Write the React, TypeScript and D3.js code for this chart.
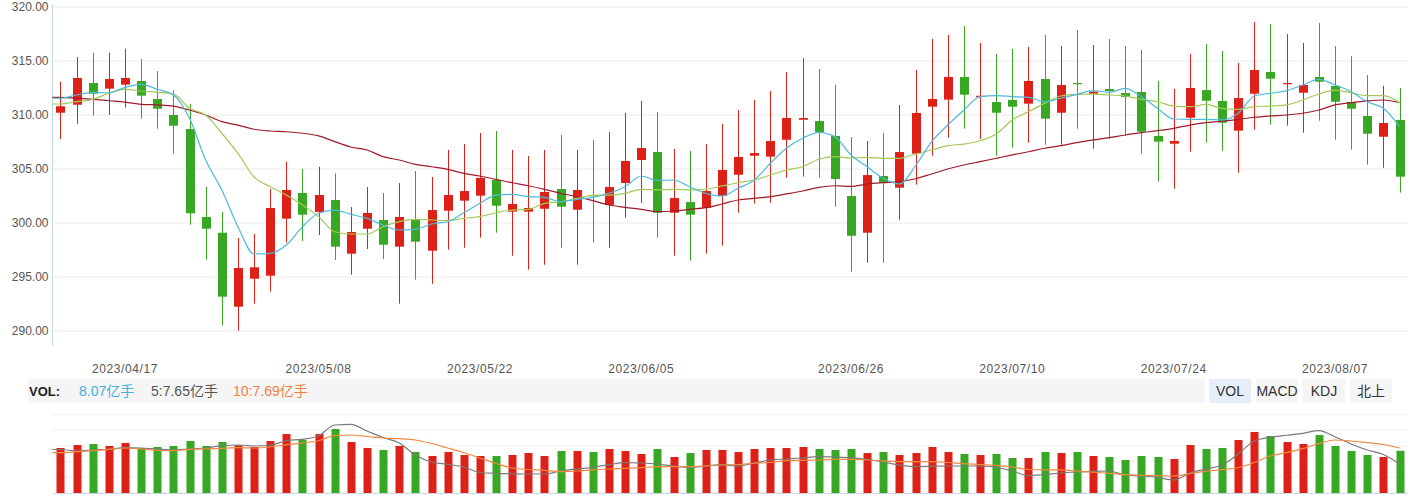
import React from 'react';
import * as d3 from 'd3';

const dates = [
  '2023/04/11','2023/04/12','2023/04/13','2023/04/14','2023/04/17','2023/04/18','2023/04/19','2023/04/20','2023/04/21','2023/04/24',
  '2023/04/25','2023/04/26','2023/04/27','2023/04/28','2023/05/04','2023/05/05','2023/05/08','2023/05/09','2023/05/10','2023/05/11',
  '2023/05/12','2023/05/15','2023/05/16','2023/05/17','2023/05/18','2023/05/19','2023/05/22','2023/05/23','2023/05/24','2023/05/25',
  '2023/05/26','2023/05/29','2023/05/30','2023/05/31','2023/06/01','2023/06/02','2023/06/05','2023/06/06','2023/06/07','2023/06/08',
  '2023/06/09','2023/06/12','2023/06/13','2023/06/14','2023/06/15','2023/06/16','2023/06/19','2023/06/20','2023/06/21','2023/06/26',
  '2023/06/27','2023/06/28','2023/06/29','2023/06/30','2023/07/03','2023/07/04','2023/07/05','2023/07/06','2023/07/07','2023/07/10',
  '2023/07/11','2023/07/12','2023/07/13','2023/07/14','2023/07/17','2023/07/18','2023/07/19','2023/07/20','2023/07/21','2023/07/24',
  '2023/07/25','2023/07/26','2023/07/27','2023/07/28','2023/07/31','2023/08/01','2023/08/02','2023/08/03','2023/08/04','2023/08/07',
  '2023/08/08','2023/08/09','2023/08/10','2023/08/11'
];

const xTickLabels = ['2023/04/17','2023/05/08','2023/05/22','2023/06/05','2023/06/26','2023/07/10','2023/07/24','2023/08/07'];

const open = [
  310.21,310.95,312.96,312.44,312.81,313.15,311.48,310.00,308.70,300.56,
  299.10,292.25,294.84,295.12,300.40,302.78,301.02,302.13,297.16,299.47,
  300.28,297.81,300.37,297.44,301.14,302.07,302.53,303.98,301.05,301.05,
  301.32,303.15,301.23,302.59,301.67,303.70,305.83,306.57,300.95,301.94,
  301.42,302.50,304.47,306.23,306.14,307.71,309.56,309.44,308.06,302.50,
  299.10,304.35,303.27,306.42,310.77,311.42,313.52,311.70,311.20,311.39,
  311.05,313.33,310.21,312.96,311.97,312.41,312.04,312.13,308.06,307.34,
  309.75,312.31,311.30,308.55,311.97,313.98,312.92,312.06,313.52,312.69,
  311.20,309.91,307.99,309.54
];
const close = [
  310.81,313.43,311.97,313.33,313.43,311.79,310.58,309.01,300.90,299.47,
  293.18,295.83,295.90,301.39,303.06,300.77,302.59,297.81,299.17,300.93,
  297.99,300.56,298.27,301.20,302.59,302.96,304.17,301.60,301.76,301.39,
  302.87,301.51,303.06,302.50,303.33,305.74,306.94,300.95,302.31,300.77,
  302.96,304.91,306.11,306.48,307.59,309.72,309.72,308.43,304.07,298.82,
  304.44,303.73,306.57,310.19,311.48,313.52,311.88,311.78,310.21,310.77,
  313.15,309.66,312.78,312.92,312.16,312.22,311.67,308.45,307.53,307.59,
  312.50,311.32,309.29,311.57,314.17,313.36,312.96,312.78,313.08,311.23,
  310.58,308.27,309.26,304.29
];
const high = [
  313.08,315.37,315.77,315.77,316.14,315.19,314.07,312.31,311.02,303.36,
  301.02,298.61,298.98,303.15,305.68,305.00,305.21,304.60,301.48,303.33,
  302.78,303.70,304.81,304.26,306.76,307.31,308.33,308.52,306.76,306.20,
  306.76,308.15,306.76,307.69,308.43,310.19,311.30,310.28,306.85,306.67,
  307.31,309.17,310.46,311.39,312.22,313.98,315.28,314.26,312.78,307.96,
  307.59,308.33,310.93,314.17,317.04,317.41,318.24,316.67,315.65,316.11,
  316.30,317.41,316.39,317.87,316.48,317.04,316.39,316.02,313.15,312.41,
  315.65,316.57,315.93,314.81,318.61,318.43,317.50,316.67,318.52,316.39,
  315.46,313.70,312.69,312.50
];
const low = [
  307.78,309.17,309.94,310.00,310.68,309.66,308.73,306.42,299.84,296.60,
  290.49,290.03,292.53,293.64,298.18,298.33,298.89,296.57,295.21,297.59,
  296.67,292.53,294.75,294.38,297.53,297.71,298.64,299.10,296.97,295.68,
  296.14,297.71,296.14,298.18,297.71,300.49,301.85,298.64,296.97,296.51,
  297.16,297.90,300.95,301.79,301.88,304.19,304.29,304.19,301.51,295.49,
  296.32,296.32,300.31,303.55,306.23,307.90,308.73,307.78,306.23,306.97,
  307.44,307.25,307.25,308.73,306.88,307.81,308.08,306.42,303.82,303.18,
  306.60,307.44,306.69,304.66,308.64,309.10,309.01,308.36,309.47,307.71,
  306.79,305.40,305.12,302.81
];

const ma5 = [
  311.55,311.85,312.10,312.06,312.56,312.84,312.38,311.85,309.69,305.83,
  303.06,299.66,297.13,297.19,297.96,299.66,300.90,301.20,300.80,300.43,
  299.81,299.35,299.41,299.91,300.12,300.95,301.82,302.59,302.65,302.44,
  302.38,301.97,302.19,302.38,302.75,303.36,304.35,303.94,303.98,303.36,
  302.75,302.50,303.21,303.98,305.53,306.92,307.84,308.40,307.99,306.30,
  305.21,304.14,303.61,305.30,307.53,309.07,310.46,311.70,311.79,311.70,
  311.64,311.23,311.55,311.91,312.25,312.10,312.47,311.70,310.62,309.63,
  309.60,309.60,309.54,310.16,311.76,312.01,312.25,312.78,313.30,312.78,
  312.16,311.23,310.62,308.92
];
const ma10 = [
  311.02,311.23,311.45,312.01,312.38,312.22,312.10,311.94,310.62,310.00,
  308.31,306.45,304.26,303.36,302.59,301.67,300.59,299.19,298.98,298.98,
  299.66,300.12,300.34,300.28,300.22,300.43,300.59,300.95,301.20,301.26,
  301.82,301.97,302.28,302.56,302.59,302.75,303.12,303.06,303.12,303.06,
  303.12,303.43,303.73,303.98,304.44,304.91,305.21,305.90,306.14,306.02,
  306.08,305.99,305.99,306.39,306.76,307.16,307.31,307.62,308.24,309.54,
  310.31,311.08,311.76,311.91,311.94,311.85,311.76,311.45,311.23,310.83,
  310.77,310.99,310.62,310.53,310.77,310.83,310.93,311.39,311.94,312.31,
  312.06,311.79,311.79,311.14
];
const ma20 = [
  311.64,311.55,311.45,311.32,311.20,310.99,310.93,310.83,310.46,310.00,
  309.38,309.07,308.68,308.52,308.45,308.31,308.06,307.53,307.04,306.76,
  306.14,305.83,305.43,305.21,304.97,304.60,304.35,304.04,303.73,303.45,
  303.12,302.75,302.44,302.07,301.67,301.45,301.26,301.05,301.11,301.26,
  301.42,301.76,302.13,302.28,302.44,302.69,302.96,303.30,303.45,303.39,
  303.61,303.73,303.82,304.10,304.54,305.00,305.37,305.68,305.99,306.30,
  306.60,306.92,307.16,307.44,307.69,307.90,308.15,308.36,308.55,308.77,
  309.07,309.29,309.42,309.60,309.79,309.91,310.00,310.16,310.46,310.93,
  311.14,311.30,311.39,311.14
];

// 成交量（亿手）
const volume = [
  8.60,9.17,9.36,8.98,9.56,8.60,8.79,8.98,9.94,8.98,
  9.75,9.12,8.79,9.94,11.27,10.13,11.27,12.23,9.75,8.60,
  8.22,8.98,7.84,7.07,7.84,7.26,7.07,7.07,7.26,7.64,
  7.07,8.03,8.03,7.84,8.41,8.03,7.45,8.41,6.88,7.64,
  8.22,8.22,7.84,8.41,8.60,8.60,8.79,8.41,8.22,8.41,
  7.64,7.84,7.26,7.64,8.79,7.84,7.45,7.26,7.45,6.69,
  6.69,7.84,7.64,7.84,7.07,6.88,6.31,7.07,6.88,6.50,
  9.17,8.41,8.60,10.13,11.66,10.89,9.75,9.36,11.08,8.98,
  8.03,7.26,6.88,8.07
];
const volMa5 = [
  8.31,8.03,8.22,8.35,8.66,8.60,8.41,8.22,8.41,8.60,
  9.04,9.17,8.98,9.12,9.99,10.26,10.95,12.99,13.13,11.85,
  10.61,9.56,7.26,5.92,5.48,4.97,3.92,3.76,3.69,3.63,
  3.63,4.20,4.59,4.91,5.41,5.79,5.73,5.54,5.16,4.91,
  5.16,5.41,5.16,5.73,6.31,6.50,6.69,6.94,6.88,6.75,
  6.40,5.92,5.35,5.03,5.10,5.16,5.16,5.16,4.87,4.20,
  3.31,3.54,3.82,4.01,4.15,4.20,3.44,3.25,3.00,2.48,
  3.82,4.59,5.35,7.45,9.94,10.64,11.03,11.41,11.91,10.76,
  9.36,8.22,7.36,5.54
];
const volMa10 = [
  7.70,7.89,8.08,8.35,8.60,8.41,8.16,8.08,8.35,8.41,
  8.54,8.66,8.60,8.79,9.23,9.56,9.99,10.95,11.08,10.80,
  10.51,10.38,10.13,9.46,8.60,7.70,6.69,5.64,4.78,4.49,
  4.34,4.07,4.20,4.40,4.59,4.72,4.83,5.03,5.03,5.03,
  5.16,5.35,5.45,5.68,5.83,6.17,6.25,6.31,6.44,6.44,
  6.31,6.12,5.98,5.98,5.98,5.83,5.60,5.45,5.26,4.97,
  4.49,4.40,4.40,4.20,3.96,3.76,3.50,3.38,3.31,3.25,
  3.73,4.15,4.45,4.87,5.83,7.07,7.70,8.47,9.42,10.13,
  9.94,9.61,9.27,8.60
];

const legendVol = '8.07亿手';
const legendMa5 = '5:7.65亿手';
const legendMa10 = '10:7.69亿手';
const buttons = ['VOL', 'MACD', 'KDJ', '北上'];

const UP = '#dd2118';
const DOWN = '#38a824';
const FONT = "Arial, 'Liberation Sans', 'Noto Sans CJK SC', sans-serif";

export default function App() {
  const W = 1415, H = 496;
  const x = d3.scaleBand<string>().domain(dates).range([52.4, 1407.6]);
  const cx = (i: number) => (x(dates[i]) as number) + x.bandwidth() / 2;
  const x0 = x.range()[0];
  const y = d3.scaleLinear().domain([290, 320]).range([331, 7]);
  const yv = d3.scaleLinear().domain([0, 15]).range([493, 414.5]);
  // lines run from the plot's left edge (carrying the first value) through every day
  const mk = (arr: number[], sc: (v: number) => number) => {
    const pts: [number, number][] = [[x0, sc(arr[0])], ...arr.map((v, i) => [cx(i), sc(v)] as [number, number])];
    return d3.line().curve(d3.curveMonotoneX)(pts) || '';
  };

  const yTicks = y.ticks(6);
  const vTicks = [3, 6, 9, 12, 15];
  const bodyW = 9;
  const volW = 8;

  return (
    <svg width={W} height={H} style={{ position: 'absolute', left: 0, top: 0, display: 'block', background: '#fff' }} fontFamily={FONT}>
      {/* main grid */}
      {yTicks.map((t) => (
        <line key={'g' + t} x1={53} x2={1408} y1={y(t)} y2={y(t)} stroke="#f2f2f2" strokeWidth={1.6} />
      ))}
      <line x1={52.5} x2={52.5} y1={4} y2={346} stroke="#c6d6ea" strokeWidth={1} />
      {yTicks.map((t) => (
        <text key={'yl' + t} x={48.5} y={y(t)} dy="0.35em" textAnchor="end" fontSize={12} fill="#555">
          {d3.format('.2f')(t)}
        </text>
      ))}

      {/* candles */}
      {dates.map((d, i) => {
        const up = close[i] >= open[i];
        const c = up ? UP : DOWN;
        const top = y(Math.max(open[i], close[i]));
        const bot = y(Math.min(open[i], close[i]));
        const xc = cx(i);
        return (
          <g key={'c' + i}>
            <line x1={Math.round(xc) + 0.5} x2={Math.round(xc) + 0.5} y1={y(high[i])} y2={y(low[i])} stroke={c} strokeWidth={1} />
            <rect x={Math.round(xc) + 0.5 - bodyW / 2} y={top} width={bodyW} height={Math.max(bot - top, 1.2)} fill={c} />
          </g>
        );
      })}

      {/* MA lines */}
      <path d={mk(ma20, y)} fill="none" stroke="#9e1b2b" strokeWidth={1.2} />
      <path d={mk(ma10, y)} fill="none" stroke="#a4c957" strokeWidth={1.2} />
      <path d={mk(ma5, y)} fill="none" stroke="#4cbadb" strokeWidth={1.2} />

      {/* x labels */}
      {xTickLabels.map((lab) => {
        const i = dates.indexOf(lab);
        return (
          <text key={'xl' + lab} x={cx(i)} y={369} dy="0.35em" textAnchor="middle" fontSize={12} fill="#555" letterSpacing={0.6}>
            {lab}
          </text>
        );
      })}

      {/* legend bar */}
      <rect x={28} y={379} width={1177} height={24} fill="#f5f5f5" />
      <text x={29} y={391} dy="0.35em" fontSize={13} fontWeight="bold" fill="#222">VOL:</text>
      <text x={79} y={391} dy="0.35em" fontSize={14} fill="#45b1dc">{legendVol}</text>
      <text x={151} y={391} dy="0.35em" fontSize={14} fill="#555">{legendMa5}</text>
      <text x={233} y={391} dy="0.35em" fontSize={14} fill="#f0823f">{legendMa10}</text>

      {buttons.map((b, k) => {
        const bx = 1209 + k * 47;
        return (
          <g key={'b' + b}>
            <rect x={bx} y={379} width={42} height={24} fill={k === 0 ? '#e5eef9' : '#f5f5f5'} />
            <text x={bx + 21} y={391} dy="0.35em" textAnchor="middle" fontSize={14} fill="#333">{b}</text>
          </g>
        );
      })}

      {/* volume grid */}
      {vTicks.map((t) => (
        <line key={'vg' + t} x1={53} x2={1408} y1={yv(t)} y2={yv(t)} stroke="#f2f4f8" strokeWidth={1.4} />
      ))}
      {dates.map((d, i) => {
        const up = close[i] >= open[i];
        return (
          <rect key={'v' + i} x={Math.round(cx(i)) + 0.5 - volW / 2} y={yv(volume[i])} width={volW} height={yv(0) - yv(volume[i])} fill={up ? UP : DOWN} />
        );
      })}
      <line x1={53} x2={1408} y1={493.5} y2={493.5} stroke="#ccd5e3" strokeWidth={1} />
      <path d={mk(volMa5, yv)} fill="none" stroke="#7a7a7a" strokeWidth={1.2} />
      <path d={mk(volMa10, yv)} fill="none" stroke="#f0883e" strokeWidth={1.2} />
    </svg>
  );
}
